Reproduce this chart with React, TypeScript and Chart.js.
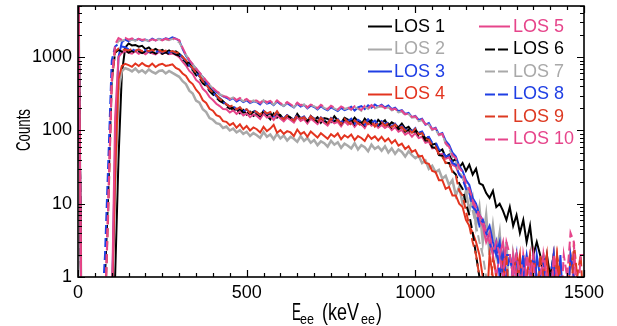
import React, { useEffect, useRef } from "react";
import { Chart, registerables } from "chart.js";

Chart.register(...registerables);

// Energy bins (keV_ee)
const energies = [
  0, 10, 20, 30, 40, 50, 60, 70, 80, 90,
  100, 110, 120, 130, 140, 150, 160, 170, 180, 190,
  200, 210, 220, 230, 240, 250, 260, 270, 280, 290,
  300, 310, 320, 330, 340, 350, 360, 370, 380, 390,
  400, 410, 420, 430, 440, 450, 460, 470, 480, 490,
  500, 510, 520, 530, 540, 550, 560, 570, 580, 590,
  600, 610, 620, 630, 640, 650, 660, 670, 680, 690,
  700, 710, 720, 730, 740, 750, 760, 770, 780, 790,
  800, 810, 820, 830, 840, 850, 860, 870, 880, 890,
  900, 910, 920, 930, 940, 950, 960, 970, 980, 990,
  1000, 1010, 1020, 1030, 1040, 1050, 1060, 1070, 1080, 1090,
  1100, 1110, 1120, 1130, 1140, 1150, 1160, 1170, 1180, 1190,
  1200, 1210, 1220, 1230, 1240, 1250, 1260, 1270, 1280, 1290,
  1300, 1310, 1320, 1330, 1340, 1350, 1360, 1370, 1380, 1390,
  1400, 1410, 1420, 1430, 1440, 1450, 1460, 1470, 1480, 1490,
  1500,
];

const los1 = [
  30000, 0, 0, 0, 0, 0, 0, 0, 0, 0,
  0, 1, 40, 600, 1350, 1540, 1450, 1470, 1390, 1430,
  1290, 1360, 1230, 1300, 1210, 1260, 1170, 1240, 1150, 1200,
  1110, 1010, 870, 830, 700, 660, 550, 530, 430, 400,
  340, 300, 275, 250, 225, 212, 188, 196, 172, 190,
  165, 181, 158, 170, 149, 176, 160, 142, 171, 150,
  162, 140, 157, 149, 136, 168, 145, 151, 130, 158,
  139, 152, 128, 147, 144, 131, 156, 137, 125, 149,
  141, 127, 150, 133, 120, 145, 129, 138, 117, 140,
  126, 138, 115, 129, 121, 110, 124, 106, 112, 97,
  104, 88, 93, 77, 80, 64, 66, 52, 55, 43,
  47, 38, 41, 31, 36, 28, 34, 25, 30, 19,
  18, 14, 12, 15, 9, 10, 8, 6, 9, 5,
  7, 4, 6, 3, 5, 2, 3, 2, 1, 2,
  1, 2, 0, 1, 0, 1, 0, 0, 1, 0,
  0,
];

const los2 = [
  30000, 0, 0, 0, 0, 0, 0, 0, 0, 0,
  0, 15, 350, 650, 710, 680, 640, 700, 625, 665,
  610, 680, 630, 600, 650, 660, 600, 650, 610, 575,
  540, 470, 430, 350, 320, 255, 240, 195, 178, 148,
  140, 126, 122, 108, 113, 100, 106, 94, 101, 90,
  96, 84, 92, 86, 79, 95, 82, 88, 76, 90,
  78, 85, 73, 82, 77, 70, 84, 72, 79, 68,
  74, 63, 71, 67, 60, 72, 64, 69, 58, 66,
  62, 57, 67, 55, 63, 59, 52, 64, 56, 60,
  53, 61, 50, 57, 48, 55, 51, 44, 52, 46,
  42, 45, 36, 39, 30, 33, 27, 29, 22, 24,
  18, 21, 13, 17, 10, 15, 8, 12, 5, 9,
  3, 7, 2, 5, 2, 4, 1, 3, 0, 2,
  1, 0, 2, 0, 1, 0, 0, 1, 0, 0,
  0, 1, 0, 0, 0, 0, 1, 0, 0, 0,
  0,
];

const los3 = [
  30000, 0, 0, 0, 0, 0, 0, 0, 0, 0,
  0, 60, 1000, 1600, 1740, 1650, 1770, 1690, 1780, 1670,
  1740, 1660, 1790, 1700, 1780, 1720, 1810, 1760, 1870, 1790,
  1680, 1300, 1050, 900, 790, 700, 610, 530, 460, 410,
  365, 335, 310, 292, 280, 262, 276, 248, 266, 245,
  258, 236, 250, 244, 226, 255, 232, 241, 222, 248,
  228, 215, 236, 220, 206, 231, 212, 224, 200, 218,
  209, 193, 214, 199, 188, 206, 195, 184, 203, 190,
  198, 210, 187, 206, 215, 196, 221, 205, 226, 211,
  224, 206, 219, 196, 204, 183, 190, 168, 174, 152,
  158, 139, 145, 120, 126, 104, 109, 88, 92, 72,
  64, 50, 44, 33, 28, 21, 18, 12, 10, 7,
  6, 4, 5, 3, 2, 3, 1, 2, 2, 1,
  2, 0, 1, 2, 1, 0, 2, 1, 0, 1,
  0, 1, 0, 2, 0, 0, 1, 0, 1, 0,
  0,
];

const los4 = [
  30000, 0, 0, 0, 0, 0, 0, 0, 0, 0,
  0, 25, 500, 760, 810, 780, 740, 820, 760, 835,
  770, 745, 820, 735, 790, 815, 760, 775, 800, 715,
  680, 600, 555, 470, 430, 360, 320, 258, 238, 198,
  186, 162, 155, 134, 131, 118, 126, 109, 121, 104,
  115, 100, 110, 104, 94, 112, 98, 106, 119, 93,
  101, 90, 98, 94, 84, 103, 89, 95, 82, 97,
  88, 80, 92, 84, 77, 89, 82, 91, 76, 86,
  80, 88, 74, 84, 79, 72, 87, 77, 83, 73,
  82, 71, 78, 67, 74, 62, 66, 56, 61, 51,
  54, 44, 45, 36, 35, 28, 27, 21, 21, 16,
  17, 13, 13, 10, 9, 6, 5, 4, 3, 2,
  1, 0, 2, 1, 0, 1, 2, 0, 1, 0,
  1, 2, 0, 1, 0, 2, 1, 0, 1, 2,
  0, 1, 2, 0, 1, 0, 2, 1, 0, 1,
  0,
];

const los5 = [
  30000, 0, 0, 0, 0, 0, 0, 0, 0, 0,
  0, 150, 1000, 1150, 1220, 1150, 1120, 1210, 1110, 1180,
  1100, 1190, 1130, 1090, 1180, 1120, 1160, 1100, 1120, 1080,
  1000, 870, 770, 650, 590, 490, 450, 370, 335, 285,
  260, 232, 215, 196, 195, 176, 188, 168, 182, 160,
  171, 152, 166, 158, 144, 169, 150, 157, 139, 161,
  146, 133, 150, 139, 128, 152, 135, 143, 124, 145,
  134, 122, 139, 127, 117, 136, 125, 131, 114, 133,
  120, 131, 112, 127, 121, 108, 130, 116, 124, 109,
  119, 108, 116, 101, 111, 96, 102, 88, 94, 82,
  92, 79, 82, 68, 70, 57, 58, 47, 48, 41,
  43, 34, 32, 25, 23, 17, 15, 10, 8, 6,
  5, 3, 4, 2, 1, 2, 3, 1, 0, 2,
  1, 0, 2, 1, 2, 0, 1, 0, 2, 1,
  0, 2, 1, 0, 1, 0, 0, 2, 1, 0,
  0,
];

const los6 = [
  30000, 0, 0, 0, 0, 0, 0, 0, 1, 15,
  500, 1150, 1260, 1190, 1240, 1160, 1220, 1150, 1210, 1140,
  1200, 1130, 1190, 1120, 1180, 1110, 1170, 1100, 1160, 1090,
  1050, 940, 850, 730, 670, 570, 520, 440, 405, 345,
  310, 282, 252, 238, 214, 198, 206, 184, 197, 176,
  186, 168, 180, 171, 158, 184, 164, 172, 152, 175,
  158, 144, 161, 150, 138, 163, 146, 154, 134, 156,
  144, 131, 148, 137, 126, 145, 134, 140, 122, 142,
  130, 141, 121, 136, 129, 117, 139, 124, 133, 117,
  128, 116, 124, 109, 119, 104, 110, 96, 102, 90,
  100, 86, 88, 73, 73, 59, 58, 46, 45, 36,
  36, 28, 25, 19, 16, 10, 7, 4, 2, 1,
  0, 0, 1, 0, 0, 0, 1, 0, 0, 0,
  0, 0, 0, 1, 0, 0, 0, 0, 0, 0,
  0, 0, 0, 0, 0, 0, 0, 0, 0, 0,
  0,
];

const los7 = [
  30000, 0, 0, 0, 0, 0, 0, 0, 0, 8,
  400, 1400, 1660, 1690, 1720, 1670, 1740, 1680, 1760, 1690,
  1720, 1670, 1740, 1700, 1770, 1690, 1750, 1710, 1780, 1690,
  1600, 1320, 1080, 920, 800, 700, 610, 530, 470, 420,
  375, 342, 312, 300, 278, 268, 283, 254, 270, 250,
  262, 240, 257, 247, 230, 259, 236, 248, 226, 252,
  230, 216, 238, 224, 208, 234, 215, 227, 203, 221,
  214, 198, 218, 204, 193, 212, 200, 190, 208, 196,
  203, 190, 210, 198, 185, 211, 196, 216, 200, 209,
  212, 198, 208, 188, 194, 176, 181, 162, 167, 150,
  152, 134, 138, 118, 120, 101, 104, 86, 89, 66,
  58, 43, 38, 27, 23, 17, 13, 8, 5, 3,
  2, 1, 0, 1, 0, 0, 1, 0, 0, 0,
  0, 1, 0, 0, 0, 0, 0, 1, 0, 0,
  0, 0, 0, 0, 1, 0, 0, 0, 0, 0,
  0,
];

const los8 = [
  30000, 0, 0, 0, 0, 0, 0, 0, 2, 40,
  900, 1400, 1520, 1400, 1370, 1280, 1290, 1220, 1270, 1200,
  1250, 1180, 1240, 1170, 1220, 1160, 1210, 1150, 1200, 1140,
  1100, 980, 890, 770, 700, 600, 550, 470, 430, 360,
  330, 293, 270, 242, 230, 210, 218, 192, 206, 184,
  193, 174, 188, 177, 162, 186, 168, 175, 156, 180,
  158, 145, 162, 150, 139, 164, 147, 155, 136, 157,
  146, 133, 151, 139, 128, 148, 136, 143, 125, 146,
  133, 145, 124, 140, 131, 120, 142, 127, 136, 119,
  134, 121, 130, 114, 124, 109, 115, 102, 107, 96,
  108, 93, 97, 80, 82, 68, 69, 55, 52, 44,
  46, 36, 34, 25, 22, 16, 14, 9, 8, 5,
  6, 4, 3, 2, 3, 1, 2, 1, 2, 1,
  2, 1, 2, 0, 1, 2, 1, 1, 2, 0,
  1, 2, 0, 1, 1, 0, 2, 1, 0, 1,
  0,
];

const los9 = [
  30000, 0, 0, 0, 0, 0, 0, 0, 0, 10,
  450, 1200, 1310, 1260, 1270, 1240, 1300, 1220, 1280, 1210,
  1270, 1200, 1260, 1190, 1240, 1180, 1230, 1170, 1210, 1160,
  1150, 1010, 910, 790, 710, 610, 560, 470, 425, 365,
  330, 304, 268, 254, 228, 212, 221, 194, 208, 186,
  195, 172, 190, 178, 164, 188, 170, 179, 158, 183,
  155, 143, 160, 148, 137, 162, 145, 152, 134, 156,
  143, 130, 149, 136, 125, 146, 133, 140, 123, 144,
  131, 120, 137, 126, 115, 134, 122, 131, 113, 128,
  130, 116, 126, 111, 121, 105, 112, 99, 104, 93,
  106, 89, 92, 76, 75, 62, 60, 47, 44, 36,
  37, 27, 24, 15, 13, 8, 5, 3, 2, 1,
  0, 1, 0, 2, 1, 0, 1, 2, 0, 1,
  2, 1, 0, 1, 2, 1, 0, 2, 1, 0,
  1, 0, 2, 1, 0, 1, 0, 3, 1, 2,
  0,
];

const los10 = [
  30000, 0, 0, 0, 0, 0, 0, 0, 0, 12,
  500, 1500, 1820, 1720, 1840, 1740, 1810, 1690, 1780, 1720,
  1760, 1670, 1750, 1690, 1770, 1700, 1790, 1730, 1820, 1780,
  1720, 1350, 1080, 920, 800, 700, 620, 545, 480, 425,
  380, 345, 322, 294, 289, 270, 286, 259, 278, 255,
  270, 247, 263, 256, 236, 266, 243, 254, 231, 258,
  236, 222, 244, 228, 212, 240, 220, 232, 207, 226,
  218, 202, 224, 209, 196, 217, 205, 193, 213, 200,
  207, 194, 215, 203, 190, 217, 201, 222, 205, 214,
  219, 201, 213, 192, 198, 180, 186, 166, 171, 153,
  156, 137, 142, 122, 123, 104, 107, 88, 90, 67,
  60, 46, 42, 31, 27, 19, 16, 11, 9, 7,
  6, 4, 3, 2, 3, 2, 1, 3, 2, 1,
  2, 1, 0, 2, 1, 2, 0, 1, 2, 1,
  0, 2, 1, 0, 2, 1, 4, 3, 0, 2,
  2,
];

const seriesValues = [los1, los2, los3, los4, los5, los6, los7, los8, los9, los10];
const seriesNames = ["LOS 1", "LOS 2", "LOS 3", "LOS 4", "LOS 5", "LOS 6", "LOS 7", "LOS 8", "LOS 9", "LOS 10"];
const seriesColors = ["#000000", "#a9a9a9", "#1f3fe4", "#e3341f", "#e6458b", "#000000", "#a9a9a9", "#1f3fe4", "#dd3a22", "#e6458b"];
const seriesDashed = [false, false, false, false, false, true, true, true, true, true];

const xTickValues = [0, 500, 1000, 1500];
const yTickValues = [1, 10, 100, 1000];
const X_MIN = 0;
const X_MAX = 1500;
const Y_MIN = 1;
const Y_MAX = 5000;
// empty bins are drawn just below the log axis floor
const ZERO_COUNT_LEVEL = 0.3;

const FONT = '"Liberation Sans", Arial, Helvetica, sans-serif';

function fitText(ctx: CanvasRenderingContext2D, text: string, x: number, y: number, size: number, width: number) {
  ctx.save();
  ctx.font = `${size}px ${FONT}`;
  const w = ctx.measureText(text).width;
  ctx.translate(x, y);
  ctx.scale(width / w, 1);
  ctx.textAlign = "left";
  ctx.fillText(text, 0, 0);
  ctx.restore();
}

const framePlugin = {
  id: "framePlugin",
  afterDraw(chart: any) {
    const { ctx, chartArea, scales } = chart;
    const { left, right, top, bottom } = chartArea;
    const xs = scales.x;
    const ys = scales.y;
    ctx.save();
    ctx.strokeStyle = "#000";
    ctx.lineWidth = 1.6;
    ctx.strokeRect(left, top, right - left, bottom - top);

    ctx.lineWidth = 1.2;
    ctx.beginPath();
    for (let v = X_MIN; v <= X_MAX; v += 50) {
      const px = Math.round(xs.getPixelForValue(v)) + 0.5;
      const len = v % 500 === 0 ? 7 : 4;
      ctx.moveTo(px, bottom);
      ctx.lineTo(px, bottom - len);
      ctx.moveTo(px, top);
      ctx.lineTo(px, top + len);
    }
    for (let d = 1; d <= 1000; d *= 10) {
      for (let m = 1; m <= 9; m++) {
        const v = d * m;
        if (v > Y_MAX) break;
        const py = Math.round(ys.getPixelForValue(v)) + 0.5;
        const len = m === 1 ? 7 : 4;
        ctx.moveTo(left, py);
        ctx.lineTo(left + len, py);
        ctx.moveTo(right, py);
        ctx.lineTo(right - len, py);
      }
    }
    ctx.stroke();

    // Axis titles
    ctx.fillStyle = "#000";
    ctx.textBaseline = "alphabetic";
    ctx.save();
    ctx.translate(30, 130);
    ctx.rotate(-Math.PI / 2);
    ctx.font = `21px ${FONT}`;
    const cw = ctx.measureText("Counts").width;
    ctx.scale(42 / cw, 1);
    ctx.textAlign = "center";
    ctx.fillText("Counts", 0, 0);
    ctx.restore();

    fitText(ctx, "E", 292, 320, 24, 9);
    fitText(ctx, "ee", 300, 324, 15, 14);
    fitText(ctx, "(keV", 322, 320, 24, 37);
    fitText(ctx, "ee", 361, 324, 15, 14);
    fitText(ctx, ")", 376, 320, 24, 6);

    // Legend
    ctx.font = `18px ${FONT}`;
    ctx.textAlign = "left";
    ctx.textBaseline = "middle";
    ctx.lineWidth = 2;
    const rowGap = 22.5;
    for (let i = 0; i < seriesNames.length; i++) {
      const col = i < 4 ? 0 : 1;
      const row = i < 4 ? i : i - 4;
      const cy = 26 + row * rowGap;
      let x1: number, x2: number, tx: number;
      if (col === 0) {
        x1 = 368; x2 = 392; tx = 394;
      } else if (!seriesDashed[i]) {
        x1 = 479; x2 = 510; tx = 513;
      } else {
        x1 = 485; x2 = 508; tx = 513;
      }
      ctx.strokeStyle = seriesColors[i];
      ctx.setLineDash(seriesDashed[i] ? [10, 3] : []);
      ctx.beginPath();
      ctx.moveTo(x1, Math.round(cy) + 0.5);
      ctx.lineTo(x2, Math.round(cy) + 0.5);
      ctx.stroke();
      ctx.setLineDash([]);
      ctx.fillStyle = seriesColors[i];
      ctx.fillText(seriesNames[i], tx, cy + 1);
    }
    ctx.restore();
  },
};

export default function App() {
  const canvasRef = useRef<HTMLCanvasElement | null>(null);

  useEffect(() => {
    const canvas = canvasRef.current;
    if (!canvas) return;
    const datasets = seriesValues.map((vals, i) => ({
      label: seriesNames[i],
      data: energies.map((e, k) => ({ x: e, y: vals[k] > 0 ? vals[k] : ZERO_COUNT_LEVEL })),
      borderColor: seriesColors[i],
      backgroundColor: seriesColors[i],
      borderWidth: i === 1 ? 2.5 : 2,
      borderDash: seriesDashed[i] ? [9, 4] : [],
      pointRadius: 0,
      tension: 0,
      fill: false,
      order: seriesNames.length - 1 - i,
    }));

    const chart = new Chart(canvas, {
      type: "line",
      data: { datasets },
      options: {
        animation: false,
        responsive: true,
        maintainAspectRatio: false,
        layout: { padding: { top: 6, right: 33, left: 0, bottom: 0 } },
        plugins: {
          legend: { display: false },
          tooltip: { enabled: false },
          title: { display: false },
        },
        scales: {
          x: {
            type: "linear",
            min: X_MIN,
            max: X_MAX,
            grid: { display: false, drawTicks: false },
            border: { display: false },
            ticks: {
              color: "#000",
              font: { family: FONT, size: 18 },
              padding: 5,
              maxRotation: 0,
              autoSkip: false,
              callback: (v: any) => String(v),
            },
            afterBuildTicks: (s: any) => {
              s.ticks = xTickValues.map((v) => ({ value: v }));
            },
            afterFit: (s: any) => {
              s.height = 49;
              s.paddingLeft = 0;
              s.paddingRight = 0;
              s.paddingTop = 0;
              s.paddingBottom = 0;
            },
          },
          y: {
            type: "logarithmic",
            min: Y_MIN,
            max: Y_MAX,
            grid: { display: false, drawTicks: false },
            border: { display: false },
            ticks: {
              color: "#000",
              font: { family: FONT, size: 18 },
              padding: 6,
              autoSkip: false,
              callback: (v: any) => String(v),
            },
            afterBuildTicks: (s: any) => {
              s.ticks = yTickValues.map((v) => ({ value: v }));
            },
            afterFit: (s: any) => {
              s.width = 78;
              s.paddingLeft = 0;
              s.paddingRight = 0;
              s.paddingTop = 0;
              s.paddingBottom = 0;
            },
          },
        },
      },
      plugins: [framePlugin],
    });
    return () => chart.destroy();
  }, []);

  return (
    <div style={{ position: "absolute", left: 0, top: 0, width: 617, height: 326, background: "#fff" }}>
      <canvas ref={canvasRef} />
    </div>
  );
}
